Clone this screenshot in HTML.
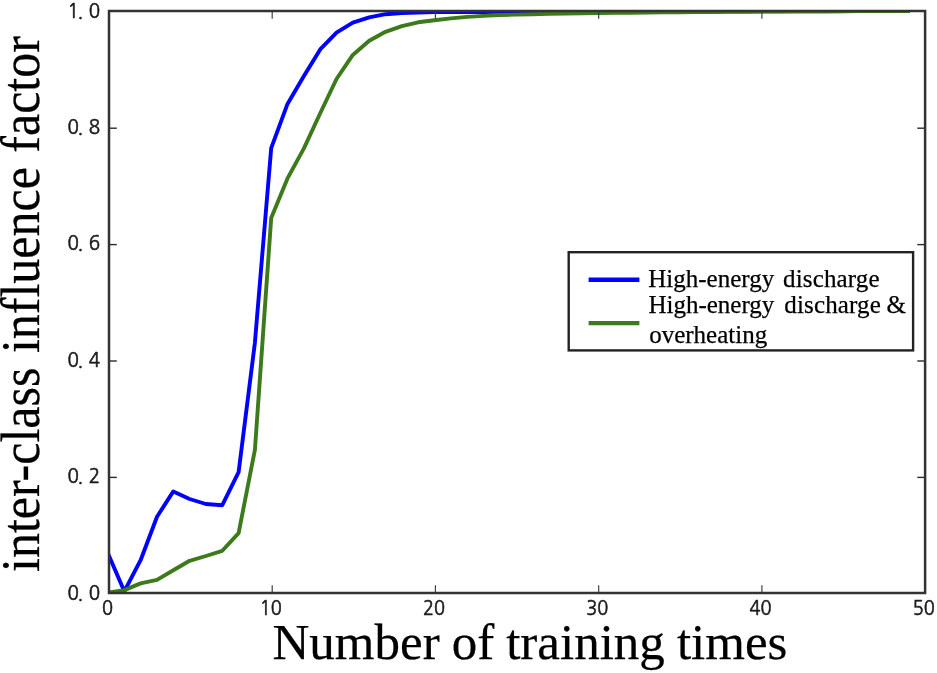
<!DOCTYPE html>
<html lang="en"><head><meta charset="utf-8"><title>inter-class influence factor</title>
<style>
html,body{margin:0;padding:0;background:#fff;}
body{width:937px;height:673px;overflow:hidden;}
svg{display:block;filter:blur(0.5px);}
.tl{font-family:"NanumGothic","Liberation Sans",sans-serif;font-size:20px;fill:#1a1a1a;stroke:#1a1a1a;stroke-width:0.6px;}
.ax{font-family:"Liberation Serif",serif;font-size:50px;fill:#000;stroke:#000;stroke-width:0.25px;}
.lg{font-family:"Liberation Serif",serif;font-size:25px;fill:#000;stroke:#000;stroke-width:0.25px;}
</style></head><body>
<svg width="937" height="673" viewBox="0 0 937 673">
<rect width="937" height="673" fill="#fff"/>
<defs><clipPath id="c"><rect x="109.0" y="11.0" width="816.1" height="582.0"/></clipPath></defs>

<g clip-path="url(#c)" fill="none" stroke-linejoin="round" stroke-linecap="square" stroke-width="3.9">
<polyline stroke="#0000ff" points="108.0,553.4 124.3,591.3 140.6,560.2 157.0,516.8 173.3,491.4 189.6,499.0 205.9,504.0 222.3,505.2 238.6,472.2 254.9,342.7 271.2,148.1 287.5,103.9 303.9,76.0 320.2,49.4 336.5,32.7 352.8,22.6 369.2,17.4 385.5,14.2 401.8,13.0 418.1,12.5 434.4,12.1 450.8,12.1 467.1,12.0 483.4,12.0 499.7,11.9 516.0,11.9 532.4,11.9 548.7,11.8 565.0,11.8 581.3,11.8 597.7,11.7 614.0,11.7 630.3,11.6 646.6,11.6 662.9,11.6 679.3,11.5 695.6,11.5 711.9,11.5 728.2,11.4 744.6,11.4 760.9,11.3 777.2,11.3 793.5,11.3 809.8,11.2 826.2,11.2 842.5,11.2 858.8,11.1 875.1,11.1 891.5,11.0 907.8,11.0"/>
<polyline stroke="#3c7a1c" points="108.0,592.7 124.3,590.1 140.6,583.4 157.0,579.9 173.3,570.3 189.6,560.8 205.9,556.0 222.3,550.8 238.6,533.1 254.9,449.8 271.2,218.0 287.5,178.4 303.9,148.4 320.2,113.3 336.5,79.0 352.8,54.9 369.2,40.8 385.5,31.8 401.8,26.1 418.1,22.3 434.4,20.3 450.8,18.4 467.1,16.9 483.4,15.9 499.7,15.1 516.0,14.6 532.4,14.2 548.7,13.9 565.0,13.5 581.3,13.3 597.7,13.1 614.0,12.9 630.3,12.7 646.6,12.5 662.9,12.4 679.3,12.2 695.6,12.0 711.9,12.0 728.2,11.9 744.6,11.7 760.9,11.6 777.2,11.5 793.5,11.4 809.8,11.3 826.2,11.2 842.5,11.1 858.8,11.1 875.1,11.1 891.5,11.0 907.8,11.0"/>
</g>
<g stroke="#3a3a3a" stroke-width="1.15">
<line x1="272.2" y1="593.0" x2="272.2" y2="585.2"/>
<line x1="272.2" y1="11.0" x2="272.2" y2="18.8"/>
<line x1="435.4" y1="593.0" x2="435.4" y2="585.2"/>
<line x1="435.4" y1="11.0" x2="435.4" y2="18.8"/>
<line x1="598.7" y1="593.0" x2="598.7" y2="585.2"/>
<line x1="598.7" y1="11.0" x2="598.7" y2="18.8"/>
<line x1="761.9" y1="593.0" x2="761.9" y2="585.2"/>
<line x1="761.9" y1="11.0" x2="761.9" y2="18.8"/>
</g>
<g stroke="#2a2a2a" stroke-width="1.4">
<line x1="109.0" y1="477.4" x2="116.8" y2="477.4"/>
<line x1="925.1" y1="477.4" x2="917.3" y2="477.4"/>
<line x1="109.0" y1="361.0" x2="116.8" y2="361.0"/>
<line x1="925.1" y1="361.0" x2="917.3" y2="361.0"/>
<line x1="109.0" y1="244.6" x2="116.8" y2="244.6"/>
<line x1="925.1" y1="244.6" x2="917.3" y2="244.6"/>
<line x1="109.0" y1="128.2" x2="116.8" y2="128.2"/>
<line x1="925.1" y1="128.2" x2="917.3" y2="128.2"/>
</g>
<rect x="109.0" y="11.0" width="816.1" height="582.0" fill="none" stroke="#333" stroke-width="2.5"/>
<text class="tl" text-anchor="end" transform="translate(100.1,599.5) scale(0.94,1)">0<tspan dx="-1.4">.</tspan><tspan dx="5.8">0</tspan></text>
<text class="tl" text-anchor="end" transform="translate(100.1,483.1) scale(0.94,1)">0<tspan dx="-1.4">.</tspan><tspan dx="5.8">2</tspan></text>
<text class="tl" text-anchor="end" transform="translate(100.1,366.7) scale(0.94,1)">0<tspan dx="-1.4">.</tspan><tspan dx="5.8">4</tspan></text>
<text class="tl" text-anchor="end" transform="translate(100.1,250.3) scale(0.94,1)">0<tspan dx="-1.4">.</tspan><tspan dx="5.8">6</tspan></text>
<text class="tl" text-anchor="end" transform="translate(100.1,133.9) scale(0.94,1)">0<tspan dx="-1.4">.</tspan><tspan dx="5.8">8</tspan></text>
<text class="tl" text-anchor="end" transform="translate(100.1,17.5) scale(0.94,1)">1<tspan dx="-1.4">.</tspan><tspan dx="5.8">0</tspan></text>
<text class="tl" text-anchor="middle" transform="translate(107.6,614.7) scale(0.91,1)">0</text>
<text class="tl" text-anchor="middle" transform="translate(270.8,614.7) scale(0.91,1)">10</text>
<text class="tl" text-anchor="middle" transform="translate(434.0,614.7) scale(0.91,1)">20</text>
<text class="tl" text-anchor="middle" transform="translate(597.3,614.7) scale(0.91,1)">30</text>
<text class="tl" text-anchor="middle" transform="translate(760.5,614.7) scale(0.91,1)">40</text>
<text class="tl" text-anchor="middle" transform="translate(923.7,614.7) scale(0.91,1)">50</text>
<rect x="568.7" y="252.2" width="344.4" height="98.2" fill="#fff" stroke="#222" stroke-width="2.4"/>
<line x1="588.6" y1="279.7" x2="639.4" y2="279.7" stroke="#0000ff" stroke-width="4.4"/>
<line x1="588.6" y1="323.1" x2="639.4" y2="323.1" stroke="#3c7a1c" stroke-width="4.4"/>
<text class="lg" x="648.3" y="286.5">High-energy <tspan dx="2.6" style="letter-spacing:0.14px">discharge</tspan></text>
<text class="lg" x="648.4" y="313.2">High-energy <tspan dx="3.8" style="letter-spacing:0.14px">discharge</tspan> <tspan dx="-0.6">&amp;</tspan></text>
<text class="lg" x="649.2" y="343.2">overheating</text>
<text class="ax" x="272.5" y="659.2" style="font-size:51px;word-spacing:-0.7px">Number of training times</text>
<text class="ax" transform="translate(38.9,572.0) rotate(-90) scale(1,1.09)" style="word-spacing:2px">inter-class influence factor</text>
</svg></body></html>
